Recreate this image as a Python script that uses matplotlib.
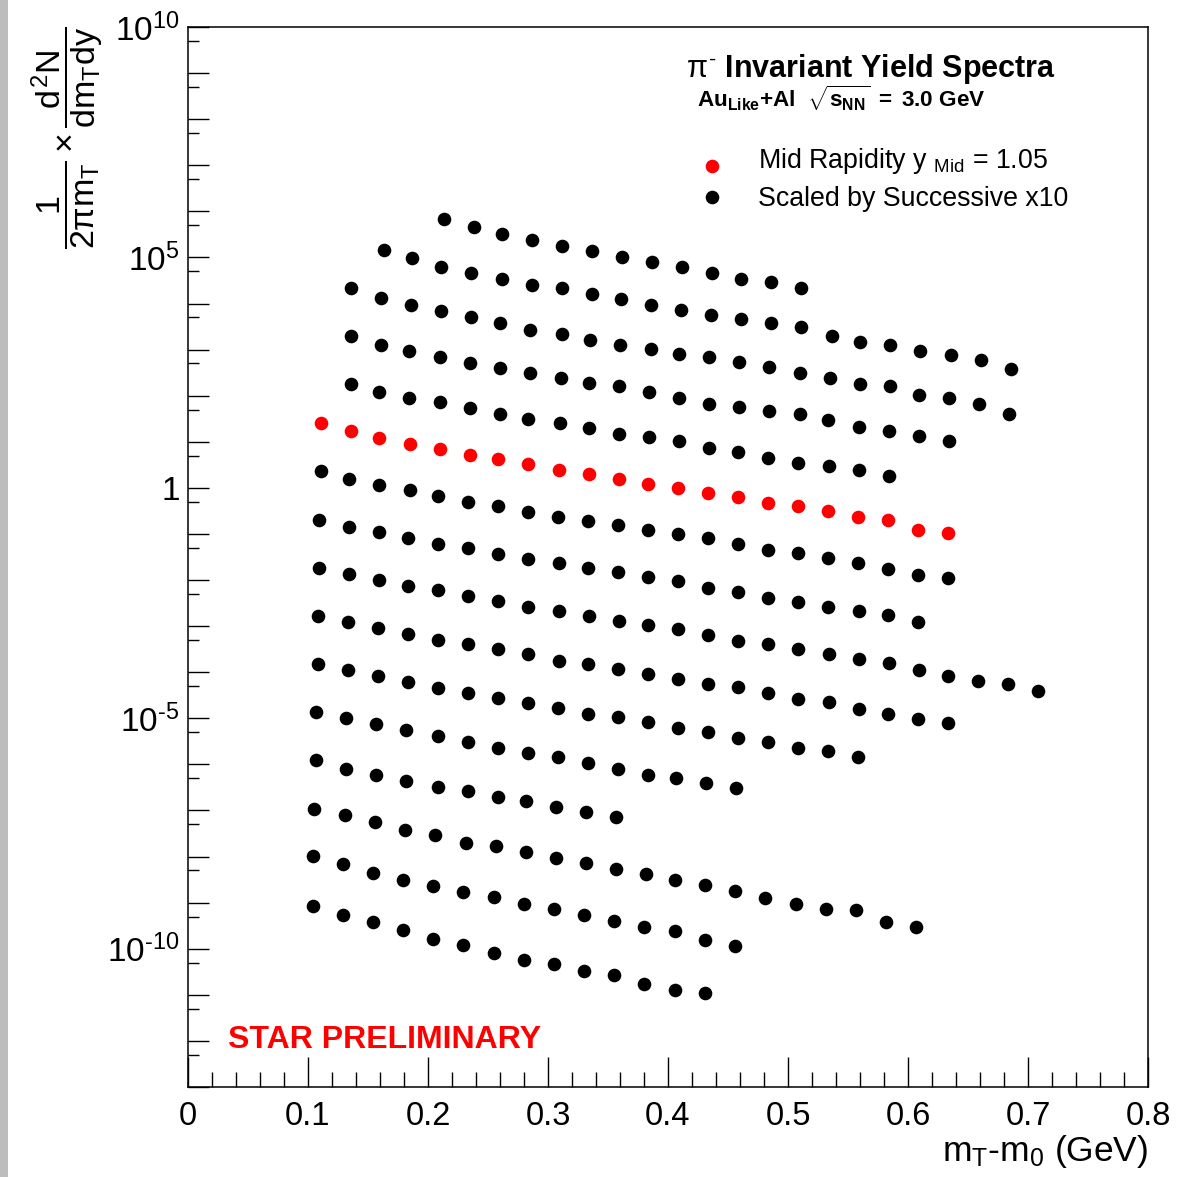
import numpy as np
import matplotlib
matplotlib.use('Agg')
import matplotlib.pyplot as plt
from matplotlib.ticker import FixedLocator, MultipleLocator, FuncFormatter, NullFormatter
from matplotlib.patches import Rectangle

plt.rcParams.update({
    'font.family': ['Liberation Sans', 'DejaVu Sans'],
    'mathtext.fontset': 'custom',
    'mathtext.rm': 'Liberation Sans',
    'mathtext.it': 'Liberation Sans',
    'mathtext.sf': 'Liberation Sans',
    'mathtext.bf': 'Liberation Sans:bold',
})

# pi- spectra, m_T - m_0 (GeV) and log10 of the plotted yield
# mid rapidity bin (unscaled)
mt_mid = [0.111, 0.136, 0.159, 0.185, 0.210, 0.235, 0.258, 0.283, 0.309, 0.334, 0.359,
          0.383, 0.408, 0.433, 0.458, 0.483, 0.508, 0.533, 0.558, 0.583, 0.608, 0.633]
lg_mid = [1.41, 1.24, 1.09, 0.96, 0.85, 0.72, 0.63, 0.52, 0.39, 0.30, 0.20,
          0.09, 0.00, -0.11, -0.20, -0.33, -0.39, -0.50, -0.63, -0.70, -0.91, -0.98]

# other rapidity bins, scaled by successive factors of 10 (top to bottom)
mt_01 = [0.213, 0.238, 0.262, 0.287, 0.312, 0.337, 0.362, 0.387, 0.412, 0.437, 0.461, 0.486, 0.511]
lg_01 = [5.83, 5.67, 5.50, 5.37, 5.24, 5.13, 5.00, 4.91, 4.80, 4.67, 4.54, 4.46, 4.33]

mt_02 = [0.163, 0.187, 0.211, 0.236, 0.262, 0.287, 0.312, 0.337, 0.361, 0.386, 0.411,
         0.436, 0.461, 0.486, 0.511, 0.537, 0.560, 0.585, 0.610, 0.636, 0.661, 0.686]
lg_02 = [5.17, 4.98, 4.80, 4.67, 4.54, 4.41, 4.33, 4.20, 4.09, 3.96, 3.87,
         3.76, 3.67, 3.57, 3.48, 3.30, 3.17, 3.09, 2.98, 2.89, 2.78, 2.59]

mt_03 = [0.136, 0.161, 0.186, 0.211, 0.236, 0.260, 0.285, 0.312, 0.335, 0.360, 0.386, 0.409,
         0.434, 0.459, 0.484, 0.510, 0.535, 0.560, 0.585, 0.609, 0.634, 0.659, 0.684]
lg_03 = [4.33, 4.13, 3.96, 3.83, 3.70, 3.57, 3.43, 3.33, 3.20, 3.11, 3.02, 2.91,
         2.83, 2.74, 2.63, 2.50, 2.39, 2.26, 2.20, 2.02, 1.96, 1.83, 1.61]

mt_04 = [0.136, 0.161, 0.184, 0.210, 0.235, 0.260, 0.285, 0.311, 0.334, 0.359, 0.384,
         0.409, 0.434, 0.459, 0.484, 0.510, 0.533, 0.559, 0.584, 0.609, 0.634]
lg_04 = [3.30, 3.11, 2.98, 2.85, 2.72, 2.61, 2.50, 2.39, 2.28, 2.20, 2.09,
         1.96, 1.83, 1.76, 1.67, 1.61, 1.48, 1.33, 1.24, 1.13, 1.02]

mt_05 = [0.136, 0.159, 0.184, 0.210, 0.235, 0.260, 0.283, 0.310, 0.334, 0.359,
         0.384, 0.409, 0.434, 0.458, 0.483, 0.508, 0.534, 0.559, 0.584]
lg_05 = [2.26, 2.09, 1.96, 1.87, 1.74, 1.61, 1.50, 1.41, 1.30, 1.17,
         1.11, 1.02, 0.87, 0.78, 0.65, 0.54, 0.48, 0.39, 0.26]

mt_06 = [0.111, 0.134, 0.159, 0.185, 0.208, 0.233, 0.258, 0.283, 0.308, 0.333, 0.358,
         0.383, 0.408, 0.433, 0.458, 0.483, 0.508, 0.533, 0.558, 0.583, 0.608, 0.633]
lg_06 = [0.37, 0.20, 0.07, -0.04, -0.17, -0.30, -0.39, -0.52, -0.63, -0.72, -0.80,
         -0.91, -1.00, -1.09, -1.22, -1.35, -1.41, -1.52, -1.63, -1.76, -1.89, -1.96]

mt_07 = [0.109, 0.134, 0.159, 0.183, 0.208, 0.233, 0.258, 0.283, 0.309, 0.333, 0.358,
         0.383, 0.408, 0.433, 0.458, 0.483, 0.508, 0.533, 0.559, 0.583, 0.608]
lg_07 = [-0.70, -0.85, -0.96, -1.09, -1.22, -1.30, -1.43, -1.54, -1.63, -1.74, -1.83,
         -1.93, -2.02, -2.17, -2.26, -2.39, -2.48, -2.59, -2.67, -2.76, -2.91]

mt_08 = [0.109, 0.134, 0.159, 0.183, 0.208, 0.233, 0.258, 0.283, 0.309, 0.334, 0.359, 0.383,
         0.408, 0.433, 0.458, 0.483, 0.508, 0.534, 0.559, 0.584, 0.609, 0.633, 0.658, 0.683, 0.708]
lg_08 = [-1.74, -1.87, -2.00, -2.13, -2.22, -2.35, -2.46, -2.59, -2.67, -2.78, -2.89, -2.98,
         -3.07, -3.20, -3.33, -3.39, -3.50, -3.61, -3.72, -3.80, -3.96, -4.09, -4.20, -4.26, -4.41]

mt_09 = [0.108, 0.133, 0.158, 0.183, 0.208, 0.233, 0.258, 0.283, 0.309, 0.333, 0.358,
         0.383, 0.408, 0.433, 0.458, 0.483, 0.508, 0.534, 0.559, 0.583, 0.608, 0.633]
lg_09 = [-2.78, -2.91, -3.04, -3.17, -3.30, -3.39, -3.50, -3.61, -3.76, -3.83, -3.93,
         -4.04, -4.15, -4.26, -4.33, -4.46, -4.59, -4.65, -4.80, -4.91, -5.02, -5.11]

mt_10 = [0.108, 0.133, 0.158, 0.183, 0.208, 0.233, 0.258, 0.283, 0.308, 0.333,
         0.358, 0.383, 0.408, 0.433, 0.458, 0.483, 0.508, 0.533, 0.558]
lg_10 = [-3.83, -3.96, -4.09, -4.22, -4.35, -4.46, -4.57, -4.67, -4.78, -4.91,
         -4.98, -5.07, -5.20, -5.30, -5.43, -5.52, -5.65, -5.72, -5.83]

mt_11 = [0.107, 0.132, 0.157, 0.182, 0.208, 0.233, 0.258, 0.283, 0.308, 0.333,
         0.358, 0.383, 0.407, 0.432, 0.457]
lg_11 = [-4.87, -5.00, -5.13, -5.26, -5.39, -5.52, -5.65, -5.76, -5.85, -5.98,
         -6.09, -6.22, -6.30, -6.41, -6.52]

mt_12 = [0.107, 0.132, 0.157, 0.182, 0.208, 0.233, 0.258, 0.282, 0.307, 0.332, 0.357]
lg_12 = [-5.91, -6.09, -6.22, -6.35, -6.48, -6.57, -6.70, -6.80, -6.93, -7.04, -7.15]

mt_13 = [0.105, 0.131, 0.156, 0.181, 0.206, 0.232, 0.257, 0.282, 0.307, 0.332, 0.357,
         0.382, 0.406, 0.431, 0.456, 0.481, 0.507, 0.532, 0.557, 0.582, 0.607]
lg_13 = [-6.96, -7.09, -7.26, -7.43, -7.54, -7.70, -7.78, -7.91, -8.04, -8.15, -8.28,
         -8.37, -8.50, -8.61, -8.74, -8.89, -9.04, -9.13, -9.17, -9.43, -9.52]

mt_14 = [0.104, 0.129, 0.154, 0.179, 0.204, 0.229, 0.255, 0.280, 0.305, 0.330,
         0.355, 0.380, 0.406, 0.431, 0.456]
lg_14 = [-7.98, -8.17, -8.35, -8.50, -8.63, -8.76, -8.87, -9.04, -9.13, -9.26,
         -9.39, -9.52, -9.61, -9.80, -9.93]

mt_15 = [0.104, 0.129, 0.154, 0.179, 0.204, 0.229, 0.255, 0.280, 0.305, 0.330,
         0.355, 0.380, 0.406, 0.431]
lg_15 = [-9.07, -9.26, -9.43, -9.59, -9.78, -9.91, -10.09, -10.24, -10.33, -10.48,
         -10.57, -10.76, -10.89, -10.96]

scaled = [(mt_01, lg_01), (mt_02, lg_02), (mt_03, lg_03), (mt_04, lg_04), (mt_05, lg_05),
          (mt_06, lg_06), (mt_07, lg_07), (mt_08, lg_08), (mt_09, lg_09), (mt_10, lg_10),
          (mt_11, lg_11), (mt_12, lg_12), (mt_13, lg_13), (mt_14, lg_14), (mt_15, lg_15)]

W, H = 1186, 1177
fig = plt.figure(figsize=(W / 100, H / 100), dpi=100)
# thin grey strip along the left edge of the canvas
fig.add_artist(Rectangle((0, 0), 8 / W, 1, transform=fig.transFigure,
                         facecolor='#bdbdbd', edgecolor='none'))
ax = fig.add_axes([188 / W, 90 / H, 960 / W, 1060 / H])

ms = 9.8
for mt, lg in scaled:
    ax.plot(mt, 10.0 ** np.array(lg), 'o', color='black', ms=ms, mew=0)
ax.plot(mt_mid, 10.0 ** np.array(lg_mid), 'o', color='red', ms=ms, mew=0)

ax.set_xlim(0, 0.8)
ax.set_yscale('log')
ax.set_ylim(1e-13, 1e10)

ax.xaxis.set_major_locator(MultipleLocator(0.1))
ax.xaxis.set_minor_locator(MultipleLocator(0.02))
ax.xaxis.set_major_formatter(FuncFormatter(lambda v, p: '%g' % round(v, 3)))

ax.yaxis.set_major_locator(FixedLocator(10.0 ** np.arange(-13, 11)))
ax.yaxis.set_minor_locator(FixedLocator(5 * 10.0 ** np.arange(-13, 10)))
ax.yaxis.set_minor_formatter(NullFormatter())


def decade_label(v, pos):
    e = int(round(np.log10(v)))
    if e % 5:
        return ''
    if e == 0:
        return '1'
    # plain hyphen for the exponent sign
    return r'$10^{\text{%d}}$' % e


ax.yaxis.set_major_formatter(FuncFormatter(decade_label))

ax.tick_params(which='both', direction='in', top=False, right=False, width=1.0)
ax.tick_params(axis='x', which='major', length=21.5, labelsize=23.5, pad=10)
ax.tick_params(axis='x', which='minor', length=10.8)
ax.tick_params(axis='y', which='major', length=15, labelsize=24, pad=6)
ax.tick_params(axis='y', which='minor', length=8)
for sp in ax.spines.values():
    sp.set_linewidth(1.1)

ax.set_xlabel(r'm$_{T}$-m$_{0}$ (GeV)', loc='right', fontsize=25.5, labelpad=1)
ax.set_ylabel(r'$\dfrac{1}{2\pi m_{T}}\times\dfrac{d^{2}N}{dm_{T}dy}$',
              loc='top', fontsize=24.5, labelpad=1)


def fx(px):
    return (px - 188) / 960


def fy(py):
    return (1087 - py) / 1060


ax.text(fx(686), fy(77), r'$\pi^{\text{-}}$ Invariant Yield Spectra', transform=ax.transAxes,
        fontsize=22, fontweight='bold', va='baseline')
ax.text(fx(697), fy(107),
        r'$\mathbf{Au_{Like}{+}Al}\ \ \sqrt{\mathbf{s_{NN}}}\ \mathbf{=\ 3.0\ GeV}$',
        transform=ax.transAxes, fontsize=16.2, va='baseline')

ax.plot([fx(712)], [fy(166)], 'o', color='red', ms=ms, mew=0,
        transform=ax.transAxes, clip_on=False)
ax.plot([fx(712)], [fy(197)], 'o', color='black', ms=ms, mew=0,
        transform=ax.transAxes, clip_on=False)
ax.text(fx(758), fy(168), r'Mid Rapidity y ${}_{Mid}$ = 1.05', transform=ax.transAxes,
        fontsize=19.3, va='baseline')
ax.text(fx(758), fy(206), 'Scaled by Successive x10', transform=ax.transAxes,
        fontsize=19.3, va='baseline')

ax.text(fx(228), fy(1048), 'STAR PRELIMINARY', transform=ax.transAxes,
        fontsize=23, fontweight='bold', color='red', va='baseline')

fig.savefig('out.png', dpi=100)
